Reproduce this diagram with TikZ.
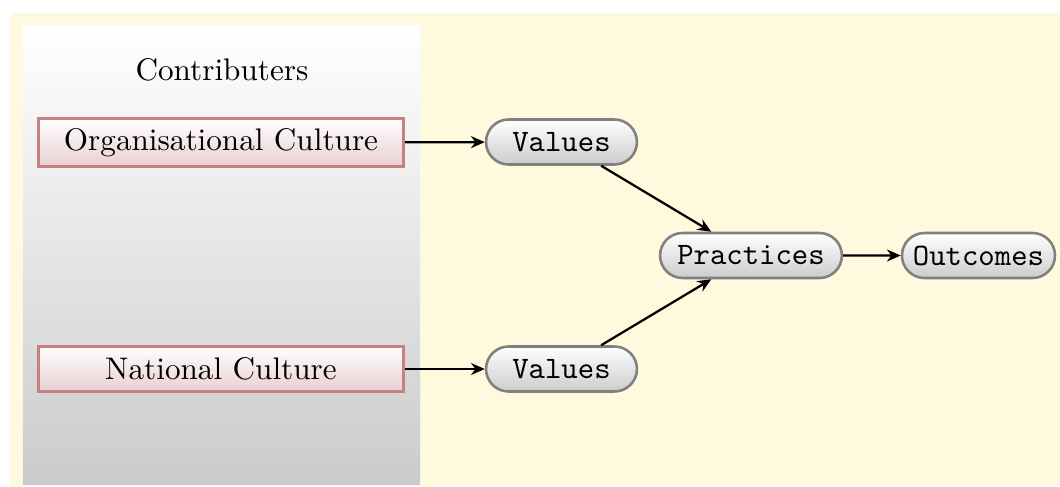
\documentclass[tikz,border=0pt]{standalone}
\usetikzlibrary{shapes.misc,arrows.meta}
\definecolor{bgyellow}{RGB}{255,250,221}
\definecolor{boxborder}{RGB}{198,128,128}
\definecolor{boxbottom}{RGB}{233,206,209}
\definecolor{pillborder}{RGB}{128,128,128}
\definecolor{pillbottom}{RGB}{204,204,204}
\definecolor{panelbottom}{RGB}{203,203,203}
\tikzset{
  culturebox/.style={draw=boxborder, line width=1pt, top color=white,
    bottom color=boxbottom, minimum width=121.7pt,
    inner sep=0pt, font=\fontsize{10.4}{12.5}\selectfont\rmfamily},
  pill/.style={rounded rectangle, draw=pillborder, line width=0.85pt,
    top color=white, bottom color=pillbottom, minimum height=15pt,
    inner sep=0pt, font=\fontsize{10.4}{12.5}\selectfont\ttfamily},
  link/.style={-{Stealth[length=4.6pt,width=4pt]}, line width=0.75pt, black},
}
\begin{document}
\begin{tikzpicture}[x=0.3333pt, y=-0.3333pt]
  \useasboundingbox (0,0) rectangle (1060,487);
  % page background and contributor panel
  \fill[white] (0,0) rectangle (1060,487);
  \fill[bgyellow] (10,13) rectangle (1060,486);
  \shade[top color=white, bottom color=panelbottom] (23,26) rectangle (420,484);
  \node[font=\fontsize{10.4}{12.5}\selectfont] (title) at (222,70) {Contributers};
  % contributing cultures
  \node[culturebox, minimum height=16.3pt] (org) at (221,142.5) {Organisational Culture};
  \node[culturebox, minimum height=15.3pt] (nat) at (221,369) {National Culture};
  % values, practices and outcomes
  \node[pill, minimum width=50.3pt] (val1) at (561.5,142) {Values};
  \node[pill, minimum width=50.3pt] (val2) at (561.5,369) {Values};
  \node[pill, minimum width=60.6pt] (prac) at (751,255.5) {Practices};
  \node[pill, minimum width=51pt] (out) at (978.5,255.5) {Outcomes};
  % connectors
  \draw[link] (org) -- (val1);
  \draw[link] (nat) -- (val2);
  \draw[link] (val1) -- (prac);
  \draw[link] (val2) -- (prac);
  \draw[link] (prac) -- (out);
\end{tikzpicture}
\end{document}
